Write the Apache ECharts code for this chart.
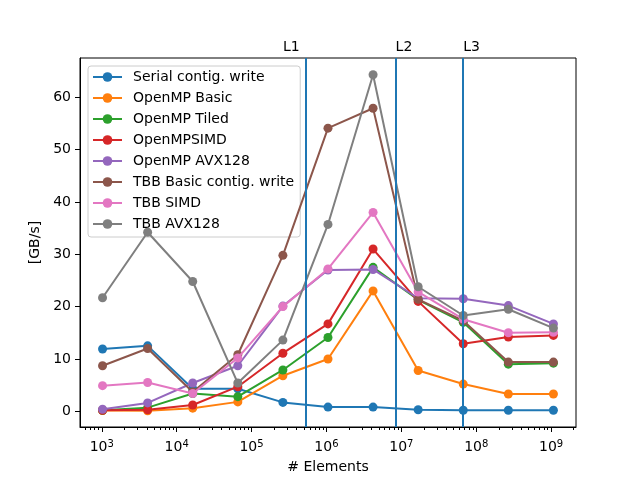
<!DOCTYPE html>
<html><head><meta charset="utf-8">
<script src="https://cdn.jsdelivr.net/npm/echarts@6/dist/echarts.min.js"></script>
<style>html,body{margin:0;padding:0;background:#fff}#c{width:640px;height:480px}</style>
</head><body><div id="c"></div>
<script>
// ---- data ----
const elements = [1024, 4096, 16384, 65536, 262144, 1048576, 4194304, 16777216, 67108864, 268435456, 1073741824];
const seriesNames = ['Serial contig. write', 'OpenMP Basic', 'OpenMP Tiled', 'OpenMPSIMD', 'OpenMP AVX128', 'TBB Basic contig. write', 'TBB SIMD', 'TBB AVX128'];
const serialWrite = [11.9, 12.5, 4.3, 4.3, 1.7, 0.8, 0.8, 0.3, 0.2, 0.2, 0.2];
const ompBasic    = [0.15, 0.1, 0.6, 1.8, 6.8, 10.0, 23.0, 7.8, 5.2, 3.3, 3.3];
const ompTiled    = [0.2, 0.7, 3.4, 2.8, 7.9, 14.1, 27.5, 21.3, 17.0, 9.0, 9.2];
const ompSIMD     = [0.2, 0.3, 1.2, 4.7, 11.1, 16.7, 31.0, 21.0, 12.9, 14.2, 14.5];
const ompAVX128   = [0.4, 1.6, 5.4, 8.7, 20.1, 27.0, 27.1, 21.6, 21.5, 20.2, 16.7];
const tbbBasic    = [8.7, 12.0, 3.7, 10.8, 29.8, 54.1, 57.9, 21.4, 17.3, 9.4, 9.4];
const tbbSIMD     = [4.9, 5.5, 3.4, 10.2, 20.0, 27.2, 38.0, 22.8, 17.6, 15.0, 15.1];
const tbbAVX128   = [21.7, 34.2, 24.8, 5.4, 13.6, 35.7, 64.3, 23.8, 18.3, 19.5, 15.9];
const allValues = [serialWrite, ompBasic, ompTiled, ompSIMD, ompAVX128, tbbBasic, tbbSIMD, tbbAVX128];
const colors = ['#1f77b4', '#ff7f0e', '#2ca02c', '#d62728', '#9467bd', '#8c564b', '#e377c2', '#7f7f7f'];
const cacheLines = [524288, 8388608, 67108864];
const cacheLabels = ['L1', 'L2', 'L3'];
const cacheLabelX = [262144, 8388608, 67108864];
const cacheLabelY = 69.5;
const yTicks = [0, 10, 20, 30, 40, 50, 60];
const xMajorTicks = [1e3, 1e4, 1e5, 1e6, 1e7, 1e8, 1e9];
const xMin = 512, xMax = 2.15e9, yMin = -3.0, yMax = 67.5;

const xMinorTicks = [];
for (let k = 2; k <= 9; k++) for (let m = 2; m <= 9; m++) {
  const v = m * Math.pow(10, k);
  if (v > xMin && v < xMax) xMinorTicks.push(v);
}

const FONT = 'DejaVu Sans';
const chart = echarts.init(document.getElementById('c'), null, {renderer: 'canvas'});

const series = seriesNames.map((name, i) => ({
  name: name,
  type: 'line',
  z: 2 + i,
  xAxisIndex: 0,
  yAxisIndex: 0,
  data: elements.map((x, j) => [x, allValues[i][j]]),
  symbol: 'circle',
  symbolSize: 9,
  showSymbol: true,
  color: colors[i],
  lineStyle: {width: 2, color: colors[i]},
  itemStyle: {color: colors[i]},
  emphasis: {disabled: true},
  animation: false
}));
series[0].markLine = {
  silent: true,
  z: 30,
  symbol: ['none', 'none'],
  label: {show: false},
  lineStyle: {color: '#1f77b4', width: 2, type: 'solid'},
  animation: false,
  data: cacheLines.map(v => ({xAxis: v}))
};

chart.setOption({
  animation: false,
  backgroundColor: '#fff',
  textStyle: {fontFamily: FONT},
  grid: {left: 80, right: 64, top: 58, bottom: 53, show: true, borderColor: '#000', borderWidth: 1, backgroundColor: 'transparent'},
  legend: {
    data: seriesNames,
    orient: 'vertical',
    left: 88, top: 66,
    itemWidth: 29, itemHeight: 12, itemGap: 7,
    padding: [4, 6, 6, 4],
    borderColor: '#cccccc', borderWidth: 1, borderRadius: 3,
    backgroundColor: 'rgba(255,255,255,0.8)',
    textStyle: {fontFamily: FONT, fontSize: 14, color: '#000', padding: [0, 0, 0, 6]},
    selectedMode: false
  },
  xAxis: [{
    type: 'log', logBase: 10, min: xMin, max: xMax,
    position: 'bottom',
    name: '# Elements', nameLocation: 'middle', nameGap: 33,
    nameTextStyle: {fontFamily: FONT, fontSize: 14, color: '#000'},
    axisLine: {show: true, onZero: false, lineStyle: {color: '#000', width: 1}},
    axisTick: {show: true, length: 5, lineStyle: {color: '#000', width: 1}, customValues: xMajorTicks},
    axisLabel: {
      show: true, margin: 12, color: '#000', customValues: xMajorTicks,
      formatter: v => '{b|10}{s|' + Math.round(Math.log10(v)) + '}',
      rich: {b: {fontFamily: FONT, fontSize: 14, color: '#000'}, s: {fontFamily: FONT, fontSize: 10, color: '#000', padding: [0, 0, 7, 0]}}
    },
    splitLine: {show: false}
  }, {
    type: 'log', logBase: 10, min: xMin, max: xMax,
    position: 'bottom', offset: 0,
    axisLine: {show: false, onZero: false},
    axisTick: {show: true, length: 3, lineStyle: {color: '#000', width: 1}, customValues: xMinorTicks},
    axisLabel: {show: false},
    splitLine: {show: false}
  }],
  yAxis: {
    type: 'value', min: yMin, max: yMax,
    name: '[GB/s]', nameLocation: 'middle', nameGap: 30, nameRotate: 90,
    nameTextStyle: {fontFamily: FONT, fontSize: 14, color: '#000'},
    axisLine: {show: true, onZero: false, lineStyle: {color: '#000', width: 1}},
    axisTick: {show: true, length: 5, lineStyle: {color: '#000', width: 1}, customValues: yTicks},
    axisLabel: {show: true, margin: 9, color: '#000', fontFamily: FONT, fontSize: 14, customValues: yTicks},
    splitLine: {show: false}
  },
  series: series
});

const graphics = cacheLabels.map((t, i) => {
  const p = chart.convertToPixel({xAxisIndex: 0, yAxisIndex: 0}, [cacheLabelX[i], cacheLabelY]);
  return {
    type: 'text', x: p[0], y: p[1], silent: true,
    style: {text: t, fill: '#000', font: '14px "DejaVu Sans"', textAlign: 'left', textVerticalAlign: 'middle'}
  };
});
chart.setOption({graphic: graphics});
</script>
</body></html>
